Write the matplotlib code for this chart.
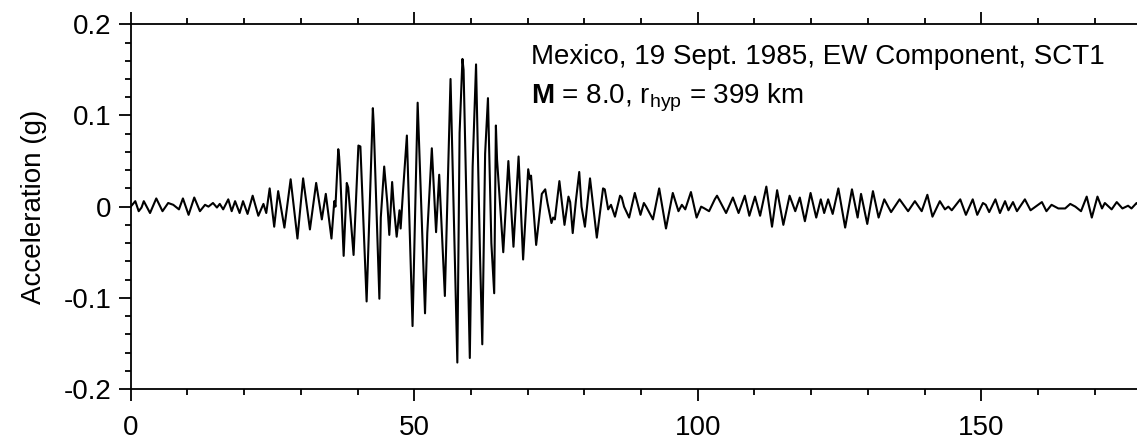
import matplotlib
matplotlib.use('Agg')
import matplotlib.pyplot as plt
from matplotlib.ticker import MultipleLocator

plt.rcParams['font.family'] = ['Liberation Sans', 'DejaVu Sans']
plt.rcParams['mathtext.fontset'] = 'custom'
plt.rcParams['mathtext.rm'] = 'Liberation Sans'
plt.rcParams['mathtext.bf'] = 'Liberation Sans:bold'
plt.rcParams['mathtext.it'] = 'Liberation Sans:italic'

# extrema of the trace (time in s, acceleration in g)
t_s = [0.0, 0.8, 1.4, 1.9, 2.3, 3.4, 4.5, 5.6, 6.6, 7.5, 8.5, 9.2, 10.2, 11.2,
       12.2, 13.1, 13.7, 14.5, 15.2, 15.7, 16.3, 17.2, 17.8, 18.4, 19.2, 19.8,
       20.6, 21.5, 22.5, 23.4, 23.9, 24.5, 25.3, 26.0, 27.1, 28.2, 29.4, 30.4,
       31.6, 32.7, 33.7, 34.4, 35.4, 35.9, 36.1, 36.6, 36.75, 36.95, 37.55,
       38.1, 38.35, 39.3, 40.15, 40.5, 41.6, 42.7, 42.85, 43.85, 44.1, 44.7,
       45.25, 45.6, 46.1, 46.4, 46.9, 47.4, 47.6, 48.0, 48.7, 49.7, 50.6, 51.9,
       52.3, 53.1, 53.85, 54.4, 55.4, 56.4, 57.6, 58.0, 58.5, 58.7, 59.8, 60.3,
       60.9, 61.6, 62.0, 62.5, 63.0, 63.6, 64.1, 64.4, 64.6, 65.7, 66.6, 67.5,
       68.4, 69.2, 70.1, 70.4, 70.6, 71.5, 72.5, 73.1, 73.5, 74.2, 74.5, 74.8,
       75.6, 76.5, 77.2, 77.5, 77.95, 78.5, 79.1, 79.5, 80.1, 81.0, 82.2, 83.3,
       83.6, 84.2, 84.7, 85.4, 86.3, 86.6, 87.0, 87.9, 88.9, 89.9, 90.5, 90.9,
       92.1, 93.2, 94.4, 95.6, 96.6, 97.2, 97.8, 98.8, 99.8, 100.6, 101.2,
       102.0, 103.0, 103.4, 105.0, 106.2, 107.2, 108.3, 109.1, 110.1, 111.0,
       112.1, 113.1, 114.0, 115.1, 116.2, 117.2, 118.0, 118.9, 119.9, 120.9,
       121.7, 122.3, 123.0, 123.8, 124.8, 126.0, 127.2, 128.2, 128.8, 129.9,
       130.9, 131.9, 132.9, 134.1, 135.6, 137.1, 138.3, 139.5, 140.5, 141.4,
       142.7, 143.6, 144.2, 144.8, 146.3, 147.3, 148.5, 149.3, 150.3, 150.8,
       151.4, 152.5, 153.3, 154.2, 154.8, 155.6, 156.3, 157.7, 158.7, 160.7,
       161.5, 162.4, 163.6, 164.8, 165.7, 166.6, 167.6, 168.6, 169.5, 170.5,
       171.3, 171.8, 173.0, 173.9, 174.9, 175.9, 176.5, 177.4, 178.0]
acc_g = [0.0, 0.006, -0.005, -0.001, 0.006, -0.007, 0.009, -0.005, 0.004, 0.002,
         -0.003, 0.009, -0.009, 0.010, -0.005, 0.002, 0.0, 0.004, -0.001, 0.003,
         -0.003, 0.008, -0.005, 0.006, -0.007, 0.006, -0.008, 0.012, -0.010,
         0.003, -0.007, 0.020, -0.022, 0.017, -0.023, 0.030, -0.035, 0.031,
         -0.025, 0.026, -0.014, 0.014, -0.035, 0.006, 0.0, 0.063, 0.055, 0.035,
         -0.054, 0.026, 0.021, -0.053, 0.067, 0.066, -0.104, 0.108, 0.09,
         -0.101, -0.012, 0.044, 0.004, -0.031, 0.027, 0.0, -0.033, -0.004,
         -0.024, 0.015, 0.078, -0.131, 0.114, -0.117, -0.029, 0.064, -0.028,
         0.035, -0.098, 0.140, -0.171, 0.081, 0.162, 0.15, -0.166, 0.044, 0.156,
         -0.054, -0.151, 0.058, 0.119, -0.04, -0.095, 0.089, 0.052, -0.050,
         0.050, -0.044, 0.055, -0.058, 0.041, 0.030, 0.034, -0.042, 0.014,
         0.019, 0.004, -0.018, -0.012, -0.014, 0.028, -0.020, 0.011, 0.005,
         -0.029, 0.006, 0.038, 0.0, -0.022, 0.031, -0.034, 0.020, 0.019, -0.003,
         0.002, -0.011, 0.012, 0.010, 0.0, -0.012, 0.015, -0.009, 0.004, 0.0,
         -0.014, 0.020, -0.024, 0.015, -0.005, 0.002, -0.003, 0.016, -0.012,
         0.0, -0.002, -0.005, 0.008, 0.012, -0.007, 0.010, -0.007, 0.012,
         -0.010, 0.011, -0.010, 0.022, -0.022, 0.018, -0.020, 0.012, -0.005,
         0.010, -0.016, 0.015, -0.012, 0.008, -0.007, 0.008, -0.008, 0.020,
         -0.023, 0.019, -0.012, 0.014, -0.019, 0.017, -0.012, 0.008, -0.006,
         0.008, -0.005, 0.006, -0.005, 0.013, -0.011, 0.006, -0.003, 0.0,
         -0.004, 0.008, -0.009, 0.008, -0.009, 0.004, 0.002, -0.006, 0.008,
         -0.007, 0.006, -0.004, 0.005, -0.005, 0.008, -0.004, 0.005, -0.005,
         0.002, -0.002, -0.002, 0.003, 0.0, -0.005, 0.011, -0.012, 0.011,
         -0.002, 0.004, -0.003, 0.005, -0.002, 0.001, -0.002, 0.004, 0.0]

fig = plt.figure(figsize=(11.37, 4.44), dpi=100)
# axes runs past the right edge, the reference is cropped there
ax = fig.add_axes([0.115, 0.1239, 0.8976, 0.8214])

ax.plot(t_s, acc_g, color='black', lw=1.5, solid_joinstyle='round')

ax.set_xlim(0, 180)
ax.set_ylim(-0.2, 0.2)
ax.xaxis.set_major_locator(MultipleLocator(50))
ax.xaxis.set_minor_locator(MultipleLocator(10))
ax.yaxis.set_major_locator(MultipleLocator(0.1))
ax.yaxis.set_minor_locator(MultipleLocator(0.02))
ax.set_yticks([-0.2, -0.1, 0, 0.1, 0.2])
ax.set_yticklabels(['-0.2', '-0.1', '0', '0.1', '0.2'])

for s in ax.spines.values():
    s.set_linewidth(1.3)
ax.tick_params(which='both', direction='out', top=True, right=True, width=1.3,
               labelsize=20)
ax.tick_params(which='major', length=8.8)
ax.tick_params(which='minor', length=4.6)
ax.tick_params(axis='x', which='major', pad=10)
ax.tick_params(axis='y', which='major', pad=4.8)

fig.text(34 / 1137, 1 - 207 / 444, 'Acceleration (g)', rotation=90,
         ha='center', va='center', fontsize=20)

ax.text(70.6, 0.156, 'Mexico, 19 Sept. 1985, EW Component, SCT1', fontsize=20,
        ha='left', va='baseline')
ax.text(70.6, 0.113, r'$\mathbf{M}$ = 8.0, r$_{\mathrm{hyp}}$ = 399 km',
        fontsize=20, ha='left', va='baseline')

fig.savefig('out.png', dpi=100)
